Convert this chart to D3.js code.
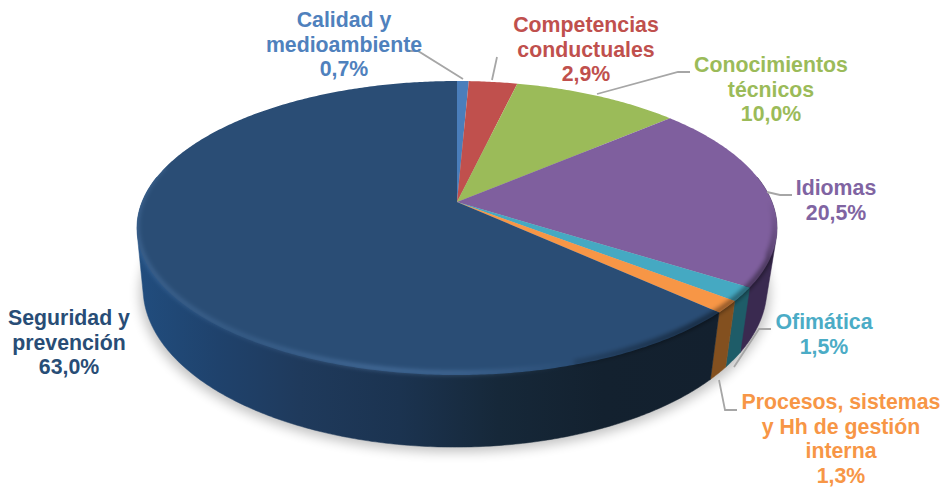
<!DOCTYPE html>
<html><head><meta charset="utf-8">
<script src="https://cdnjs.cloudflare.com/ajax/libs/d3/7.8.5/d3.min.js"></script>
<style>html,body{margin:0;padding:0;background:#fff}svg{display:block}text{font-family:"Liberation Sans",Arial,sans-serif;font-weight:700;font-size:21.3px}</style>
</head><body><svg id="c" width="943" height="487"></svg>
<script>
const categories = ["Calidad y medioambiente","Competencias conductuales","Conocimientos técnicos","Idiomas","Ofimática","Procesos, sistemas y Hh de gestión interna","Seguridad y prevención"];
const values = [0.7,2.9,10.0,20.5,1.5,1.3,63.0];
const valueLabels = ["0,7%","2,9%","10,0%","20,5%","1,5%","1,3%","63,0%"];
const labelLines = [["Calidad y","medioambiente"],["Competencias","conductuales"],["Conocimientos","técnicos"],["Idiomas"],["Ofimática"],["Procesos, sistemas","y Hh de gestión","interna"],["Seguridad y","prevención"]];
const topColors = ["#4a7ebb","#c0504d","#9bbb59","#7f5f9e","#45a9c2","#f79646","#2a4d75"];
const sideColors = ["#2f5f93","#8c3a38","#6f8a3f","#3a2a50","#1e5c68","#83501f","#16283c"];
const textColors = ["#4f81bd","#c0504d","#9bbb59","#8064a2","#4bacc6","#f79646","#284d76"];
const labelCentres = [[344,27],[586,32],[771,72],[836,195],[824,329],[841,409],[69,325]];
const leaders = [[[408,51],[418,51],[463,79]],[[497,57],[492,80]],[[597,94],[678,72],[690,72]],[[767,192],[780,195],[792,195]],[[734,367],[759,329],[771,329]],[[719,380],[725,410],[737,410]]];

const svg = d3.select("#c"), defs = svg.append("defs");
const k=0.177;
const topFace={x:457,y:202,a:315,b:142.4}, baseFace={x:455,y:260,a:307,b:154};
const project=(t,f)=>{const u=Math.sin(t),v=-Math.cos(t),w=1-k*v;return [f.x+f.a*u/w,f.y+f.b*v/w];};
const arcs=d3.pie().sort(null).value(d=>d).startAngle(0).endAngle(2*Math.PI)(values);
const samples=(t0,t1,f)=>{const n=Math.max(2,Math.ceil(Math.abs(t1-t0)/0.01));return d3.range(n+1).map(i=>project(t0+(t1-t0)*i/n,f));};
const line=d3.line();
const blur=(id,sd)=>defs.append("filter").attr("id",id).attr("filterUnits","userSpaceOnUse").attr("x",0).attr("y",0).attr("width",943).attr("height",487).append("feGaussianBlur").attr("stdDeviation",sd);
blur("shadow",6); blur("soft",2.2);

const wholeTop=line(samples(0,2*Math.PI,topFace))+"Z";
const frontStart=Math.PI/2-0.18, frontEnd=3*Math.PI/2+0.18;
const wallPath=(t0,t1)=>line(d3.polygonHull(samples(t0,t1,topFace).concat(samples(t1,t0,baseFace))))+"Z";

const clip=defs.append("clipPath").attr("id","solid");
clip.append("path").attr("d",wholeTop);
clip.append("path").attr("d",wallPath(frontStart,frontEnd));

// cast shadow
svg.append("path").attr("d",line(samples(0,2*Math.PI,{...baseFace,y:baseFace.y+5,a:baseFace.a+3}))+"Z").attr("fill","#000").attr("opacity",.24).attr("filter","url(#shadow)");

// walls
arcs.forEach((d,i)=>{
  const t0=Math.max(d.startAngle,frontStart), t1=Math.min(d.endAngle,frontEnd);
  if(t1<=t0) return;
  let fill=sideColors[i];
  if(i===6){
    const g=defs.append("linearGradient").attr("id","wall6").attr("gradientUnits","userSpaceOnUse").attr("x1",720).attr("x2",137).attr("y1",0).attr("y2",0);
    [[0,"#13202e"],[.2,"#13212f"],[.38,"#162839"],[.55,"#1b3350"],[.72,"#1f3a5c"],[.86,"#1f426c"],[1,"#214d7e"]].forEach(s=>g.append("stop").attr("offset",s[0]).attr("stop-color",s[1]));
    fill="url(#wall6)";
  }
  svg.append("path").attr("d",wallPath(t0,t1)).attr("fill",fill).attr("stroke",fill).attr("stroke-width",.5);
});

// top face
arcs.forEach((d,i)=>{
  const pts=[[topFace.x,topFace.y]].concat(samples(d.startAngle,d.endAngle,topFace));
  svg.append("path").attr("d",line(pts)+"Z").attr("fill",topColors[i]);
});

// bevels
const bevels=svg.append("g").attr("clip-path","url(#solid)");
const lightG=defs.append("linearGradient").attr("id","rimLight").attr("gradientUnits","userSpaceOnUse").attr("x1",137).attr("x2",570).attr("y1",0).attr("y2",0);
[[0,.22],[.25,.16],[.55,.3],[.75,.26],[1,0]].forEach(s=>lightG.append("stop").attr("offset",s[0]).attr("stop-color","#7fb0ea").attr("stop-opacity",s[1]));
bevels.append("path").attr("d",line(samples(Math.PI*1.58,Math.PI*0.85,{...topFace,y:topFace.y-2}))).attr("fill","none").attr("stroke","url(#rimLight)").attr("stroke-width",4.5).attr("filter","url(#soft)");

const darkG=defs.append("linearGradient").attr("id","rimDark").attr("gradientUnits","userSpaceOnUse").attr("x1",500).attr("x2",690).attr("y1",0).attr("y2",0);
darkG.append("stop").attr("offset",0).attr("stop-color","#000").attr("stop-opacity",0);
darkG.append("stop").attr("offset",1).attr("stop-color","#000").attr("stop-opacity",.42);
bevels.append("path").attr("d",line(samples(Math.PI*0.62,Math.PI*0.9,{...topFace,y:topFace.y-2}))).attr("fill","none").attr("stroke","url(#rimDark)").attr("stroke-width",6).attr("filter","url(#soft)");
const darkH=defs.append("linearGradient").attr("id","rimDarkUp").attr("gradientUnits","userSpaceOnUse").attr("x1",0).attr("x2",0).attr("y1",200).attr("y2",270);
darkH.append("stop").attr("offset",0).attr("stop-color","#000").attr("stop-opacity",0);
darkH.append("stop").attr("offset",1).attr("stop-color","#000").attr("stop-opacity",.42);
bevels.append("path").attr("d",line(samples(Math.PI*0.42,Math.PI*0.62,{...topFace,x:topFace.x-2,y:topFace.y-2}))).attr("fill","none").attr("stroke","url(#rimDarkUp)").attr("stroke-width",6).attr("filter","url(#soft)");

// leader lines
leaders.forEach(p=>svg.append("path").attr("d",line(p)).attr("fill","none").attr("stroke","#a6a6a6").attr("stroke-width",1.8));

// labels
categories.forEach((c,i)=>{
  const lines=labelLines[i].concat(valueLabels[i]);
  const t=svg.append("text").attr("text-anchor","middle").attr("fill",textColors[i]);
  lines.forEach((l,j)=>t.append("tspan").attr("x",labelCentres[i][0]).attr("y",labelCentres[i][1]+j*24.7).text(l));
});
</script></body></html>
